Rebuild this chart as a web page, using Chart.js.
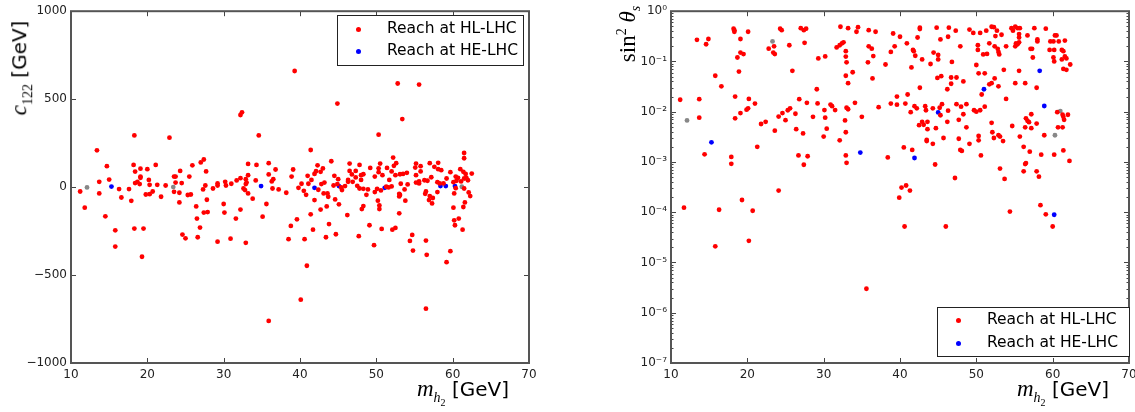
<!DOCTYPE html>
<html>
<head>
<meta charset="utf-8">
<script src="https://cdn.jsdelivr.net/npm/chart.js@4/dist/chart.umd.min.js"></script>
<style>
  body { margin: 0; width: 1135px; height: 412px; overflow: hidden; background: #fff; position: relative; font-family: "DejaVu Sans", sans-serif; }
  .pane { position: absolute; top: 0; width: 560px; height: 412px; }
  .title { position: absolute; white-space: nowrap; font-size: 20px; color: #000; transform: translate(-50%, -50%); }
  .rot { transform: translate(-50%, -50%) rotate(-90deg); }
  .m { font-family: "Liberation Serif", serif; font-size: 23px; }
  .m i { font-style: italic; }
  .m sub, .m sup { font-size: 14px; }
  .legend { position: absolute; border: 1.5px solid #222; background: #fff; font-size: 15.5px; }
  .legend div { position: absolute; left: 0; white-space: nowrap; }
  .legend span.dot { position: absolute; width: 5px; height: 5px; border-radius: 50%; }
</style>
</head>
<body>
<div class="pane" style="left:0"><canvas id="c122Chart" width="560" height="412"></canvas></div>
<div class="pane" style="left:600px"><canvas id="sinChart" width="560" height="412"></canvas></div>

<div class="title rot" style="left:21px;top:68px"><span class="m"><i>c</i><sub>122</sub></span> [GeV]</div>
<div class="title" style="left:463px;top:392px"><span class="m"><i>m</i><sub><i>h</i><sub style="font-size:10px">2</sub></sub></span> [GeV]</div>
<div class="title rot" style="left:629px;top:34px"><span class="m">sin<sup>2</sup> <i>θ</i><sub><i>s</i></sub></span></div>
<div class="title" style="left:1063px;top:392px"><span class="m"><i>m</i><sub><i>h</i><sub style="font-size:10px">2</sub></sub></span> [GeV]</div>

<div class="legend" style="left:337px;top:15px;width:185px;height:49px">
  <span class="dot" style="left:18px;top:11px;background:#f00"></span><div style="left:49px;top:3px">Reach at HL-LHC</div>
  <span class="dot" style="left:18px;top:33px;background:#00f"></span><div style="left:49px;top:25px">Reach at HE-LHC</div>
</div>
<div class="legend" style="left:937px;top:307px;width:191px;height:48px">
  <span class="dot" style="left:18px;top:10px;background:#f00"></span><div style="left:49px;top:2px">Reach at HL-LHC</div>
  <span class="dot" style="left:18px;top:33px;background:#00f"></span><div style="left:49px;top:25px">Reach at HE-LHC</div>
</div>

<script>
// axis ranges / ticks
const massTicks = [10, 20, 30, 40, 50, 60, 70];
const c122Ticks = [-1000, -500, 0, 500, 1000];
const sinTicks = [1e-7, 1e-6, 1e-5, 1e-4, 1e-3, 1e-2, 1e-1, 1];

// left panel: [m_h2, c122]
const c122HL = [
  [18.3,294],[22.9,281],[13.4,209],[14.7,119],[18.2,126],[18.4,88],[19.1,105],[20.0,102],[21.1,126],[19.1,60],
  [19.1,53],[15.0,43],[13.7,30],[18.4,23],[18.7,30],[19.0,17],[20.2,41],[20.3,13],[21.3,13],[22.4,9],
  [23.5,60],[23.7,60],[24.3,92],[23.7,26],[24.5,23],[25.5,60],[11.2,-25],[16.3,-11],[17.6,-11],[13.7,-36],
  [16.6,-59],[17.9,-78],[19.8,-42],[20.3,-40],[20.7,-25],[21.8,-55],[23.5,-27],[24.2,-32],[24.2,-87],[25.3,-45],
  [11.8,-117],[14.5,-166],[15.8,-246],[15.8,-338],[18.3,-236],[19.5,-236],[19.3,-396],[24.6,-270],[25.0,-291],
  [32.2,410],[32.4,425],[34.6,294],[25.9,124],[27.0,140],[27.4,157],[27.7,89],[33.2,132],[34.3,126],[35.9,136],
  [36.8,100],[39.1,100],[38.9,60],[35.9,72],[33.2,68],[32.2,51],[31.7,38],[31.0,19],[30.2,30],[30.3,9],
  [29.2,21],[29.2,9],[28.6,-8],[27.6,9],[27.3,-13],[32.9,45],[33.0,26],[32.9,17],[34.2,38],[36.5,45],
  [36.3,32],[32.6,-8],[32.8,-17],[33.2,-36],[33.8,-66],[36.4,-8],[37.2,-13],[38.2,-32],[39.8,-4],[40.2,19],
  [40.5,-21],[25.7,-42],[27.8,-72],[30.0,-96],[35.6,-96],[26.4,-110],[27.4,-145],[27.9,-142],[30.1,-145],[32.2,-128],
  [31.6,-179],[35.1,-168],[26.5,-179],[26.9,-230],[26.6,-285],[29.2,-310],[30.9,-293],[32.9,-317],[39.6,-183],[38.8,-221],
  [38.5,-296],[40.6,-296],[40.1,-640],[35.9,-761],[39.3,660],[44.9,475],[52.8,589],[55.6,583],
  [53.4,387],[50.3,298],[41.4,211],[44.1,147],[42.3,124],[42.1,90],[41.9,75],[41.0,64],[43.0,106],[42.7,87],
  [41.5,41],[41.1,19],[43.2,26],[42.8,17],[42.4,-15],[43.1,-36],[43.6,-36],[43.7,-55],[40.8,-44],[44.5,64],
  [45.0,45],[44.4,9],[44.9,17],[45.5,-17],[45.4,-2],[45.9,6],[46.3,41],[46.3,30],[46.5,92],[46.5,134],
  [46.9,30],[46.8,72],[47.3,55],[47.3,92],[47.8,126],[48.0,68],[48.3,73],[48.0,41],[47.5,7],[47.8,-8],
  [48.3,-10],[48.9,-13],[48.7,-44],[49.2,109],[49.8,60],[50.3,107],[50.5,134],[50.3,85],[50.8,68],[51.4,109],
  [52.0,89],[52.2,168],[52.6,136],[52.3,121],[52.5,68],[53.1,73],[53.5,75],[54.0,81],[53.2,19],[54.1,15],
  [53.7,-13],[53.0,-38],[53.0,-53],[53.1,-45],[51.7,41],[52.0,4],[51.6,-2],[51.3,2],[50.6,-19],[50.1,-10],
  [49.8,-28],[50.2,-77],[50.4,-104],[50.4,-125],[48.3,-108],[48.1,-125],[55.2,134],[55.1,111],[55.2,68],[55.2,26],
  [55.6,21],[53.8,-77],[53.0,-149],[45.1,-98],[44.6,-70],[43.5,-110],[42.7,-128],[41.9,-74],[41.4,-155],[46.2,-159],
  [43.8,-210],[41.7,-242],[43.4,-285],[44.7,-268],[47.7,-279],[49.1,-217],[49.7,-330],[50.7,-238],[52.1,-242],[52.5,-232],
  [54.7,-272],[54.4,-306],[54.8,-361],[40.9,-447],
  [61.5,194],[61.5,164],[55.8,119],[57.0,136],[57.6,115],[58.1,138],[58.5,96],[58.1,102],[55.8,89],[57.2,56],
  [59.7,85],[59.2,49],[61.0,102],[61.4,87],[61.7,75],[62.5,77],[61.8,53],[62.0,39],[61.5,49],[61.1,32],
  [60.7,53],[60.4,60],[60.5,36],[60.1,28],[56.7,36],[56.3,39],[55.6,32],[58.0,28],[58.3,21],[58.8,21],
  [60.4,-6],[61.5,-8],[62.1,-30],[62.3,-51],[58.0,-28],[56.5,-25],[56.4,-38],[57.0,-51],[57.4,-62],[56.9,-74],
  [57.3,-93],[60.2,-36],[61.6,-87],[61.4,-113],[60.1,-117],[60.8,-179],[60.2,-189],[60.3,-217],[61.3,-242],[56.5,-304],
  [56.6,-385],[59.7,-364],[59.2,-427],[56.5,-691]
];
const c122HE = [[15.3,3],[34.9,6],[41.9,-4],[45.1,6],[51.1,-4],[58.4,6],[59.1,6],[60.3,6]];
const c122Other = [[12.1,-2],[23.4,0],[61.2,2]];

// right panel: [m_h2, sin^2 theta_s]
const sinHL = [
  [11.2,0.0173],[11.7,1.23e-4],[13.4,0.27],[13.7,0.0178],[13.7,7.6e-3],[14.6,0.22],[14.9,0.28],[14.4,1.42e-3],[15.8,0.052],[16.6,0.032],
  [17.9,9.2e-4],[17.9,1.26e-3],[18.2,0.45],[18.3,0.39],[18.3,0.42],[19.1,0.28],[18.7,0.12],[19.1,0.15],[19.5,0.14],[18.9,0.063],
  [18.4,0.020],[18.4,7.4e-3],[19.1,9.4e-3],[19.9,0.011],[20.1,0.0117],[20.2,0.018],[20.1,0.39],[21.0,0.0145],[21.3,2.0e-3],[21.8,5.7e-3],
  [22.4,6.3e-3],[19.3,1.75e-4],[24.1,2.7e-4],[22.8,0.18],[23.5,0.20],[23.4,0.15],[23.6,0.14],[24.3,0.45],[24.5,0.42],[23.6,4.2e-3],
  [24.1,8e-3],[24.6,9.4e-3],[25.0,6.8e-3],[25.3,0.0107],[25.6,0.0117],[25.5,0.21],[25.9,0.065],[26.3,9.1e-3],[26.4,4.5e-3],[26.7,1.35e-3],
  [26.8,0.0178],[27.3,3.7e-3],[27.4,8.8e-4],[27.9,1.3e-3],[27.8,0.015],[27.0,0.46],[27.4,0.42],[27.7,0.45],[27.5,0.235],[28.6,7.9e-3],
  [29.1,0.028],[29.2,0.0146],[29.3,0.115],[30.1,0.0108],[30.2,7.6e-3],[30.4,4.6e-3],[30.0,3.2e-3],[30.2,0.126],[30.9,0.0139],[31.1,0.0129],
  [31.5,0.0108],[32.1,2.7e-3],[32.2,0.49],[31.7,0.19],[32.1,0.21],[32.4,0.23],[32.6,0.24],[32.9,0.16],[32.9,0.125],[33.0,0.096],
  [32.9,0.052],[33.2,0.037],[33.2,0.46],[33.0,0.012],[33.2,0.0112],[32.8,6.7e-3],[32.9,3.9e-3],[32.9,1.35e-3],[33.0,9.6e-4],[34.3,0.39],
  [34.5,0.48],[33.8,0.061],[34.1,0.015],[35.0,7.9e-3],[35.9,0.42],[36.8,0.39],[35.9,0.20],[36.3,0.18],[36.5,0.128],[35.8,0.096],
  [36.4,0.046],[37.2,0.0123],[35.6,3.0e-6],[15.8,2.1e-5],[16.3,1.12e-4],[20.2,2.7e-5],[20.7,1.07e-4],
  [39.1,0.36],[40.0,0.31],[39.3,0.20],[38.8,0.155],[38.1,0.087],[40.9,0.23],[41.7,0.17],[41.8,0.16],[42.0,0.13],[41.5,0.076],
  [42.3,0.30],[42.6,0.47],[42.6,0.44],[42.9,0.11],[42.6,0.030],[44.8,0.47],[45.3,0.275],[44.4,0.15],[45.0,0.135],[45.0,0.11],
  [44.0,0.089],[44.9,0.047],[45.4,0.051],[46.2,0.028],[46.7,0.048],[46.7,0.036],[47.4,0.048],[46.8,0.098],[46.3,0.31],[46.4,0.47],
  [47.3,0.41],[47.9,0.20],[48.3,0.040],[49.1,0.43],[49.6,0.37],[50.5,0.37],[51.3,0.41],[52.0,0.49],[52.3,0.48],[52.7,0.41],
  [52.5,0.32],[53.3,0.34],[51.7,0.23],[50.2,0.21],[50.2,0.17],[50.9,0.138],[51.4,0.141],[52.4,0.20],[52.8,0.178],[52.9,0.155],
  [53.0,0.138],[50.0,0.085],[50.3,0.058],[51.1,0.058],[53.6,0.068],[53.9,0.20],[52.4,0.046],[52.0,0.037],[51.7,0.035],[50.7,0.022],
  [52.9,0.032],[53.9,0.018],
  [54.6,0.46],[55.1,0.49],[55.4,0.46],[55.7,0.46],[55.6,0.35],[55.6,0.30],[55.2,0.23],[55.4,0.22],[55.6,0.24],[55.1,0.20],
  [54.8,0.41],[56.7,0.33],[57.6,0.46],[57.1,0.178],[57.3,0.178],[58.0,0.275],[58.0,0.25],[59.1,0.45],[57.4,0.12],[55.6,0.065],
  [55.1,0.037],[56.4,0.037],[57.9,0.030],[59.7,0.25],[60.1,0.25],[60.8,0.25],[60.3,0.33],[60.5,0.33],[61.6,0.26],[59.6,0.17],
  [60.2,0.17],[61.2,0.17],[61.4,0.16],[60.1,0.12],[60.2,0.10],[61.2,0.11],[61.6,0.126],[61.8,0.115],[62.3,0.087],[61.4,0.071],
  [61.8,0.068],
  [57.2,8.9e-3],[56.5,7.4e-3],[56.7,6.6e-3],[56.9,6.2e-3],[56.4,4.9e-3],[57.2,4.7e-3],[57.9,5.8e-3],[55.7,3.2e-3],[54.7,5.2e-3],[56.2,2.0e-3],
  [57.0,1.6e-3],[58.5,1.4e-3],[58.9,3.4e-3],[56.4,9.1e-4],[56.5,9.5e-4],[56.2,6.5e-4],[57.9,6.5e-4],[58.2,5.1e-4],[60.2,1.4e-3],[61.3,4.9e-3],
  [60.7,4.9e-3],[60.6,9.8e-3],[61.3,8.7e-3],[61.4,7.9e-3],[61.5,6.9e-3],[62.0,8.7e-3],[61.4,1.7e-3],[62.2,1.05e-3],[58.4,1.38e-4],
  [38.8,0.0145],[39.6,0.0138],[40.7,0.0145],[41.0,0.022],[39.6,0.020],[41.4,9.8e-3],[41.9,0.0129],[42.2,0.0117],[43.3,0.0129],[43.4,0.0107],
  [44.3,0.0117],[45.2,0.012],[45.3,8.5e-3],[45.5,0.0141],[46.3,0.0105],[47.4,0.0141],[48.0,0.0126],[48.7,0.0141],[48.3,8.9e-3],[47.7,6.9e-3],
  [46.2,6.3e-3],[43.6,6.3e-3],[42.9,6.3e-3],[43.1,5.5e-3],[42.5,5.4e-3],[43.6,4.5e-3],[44.7,4.7e-3],[48.7,4.9e-3],[49.7,0.0107],[50.0,0.010],
  [50.5,0.0107],[51.1,0.0126],[52.0,6.0e-3],[52.1,3.9e-3],[52.3,3.0e-3],[52.9,3.4e-3],[53.1,3.2e-3],[53.5,2.6e-3],[50.3,3.3e-3],[50.3,2.7e-3],
  [50.6,1.35e-3],[53.1,7.4e-4],[53.7,4.6e-4],[43.5,2.75e-3],[43.5,2.6e-3],[44.3,2.3e-3],[45.7,3.0e-3],[47.7,2.9e-3],[49.1,2.3e-3],[47.9,1.74e-3],
  [48.1,1.66e-3],[41.6,1.74e-3],[40.5,1.95e-3],[38.4,1.23e-3],[44.6,8.9e-4],[47.2,4.8e-4],[40.2,3.1e-4],[40.8,3.4e-4],[41.3,2.7e-4],[39.9,1.95e-4],
  [40.6,5.2e-5],[46.0,5.2e-5],[54.4,1.03e-4],[59.1,9.1e-5],[60.0,5.2e-5]
];
const sinHE = [[15.3,2.46e-3],[34.8,1.54e-3],[51.0,0.028],[58.3,0.065],[58.9,0.013],[45.0,9.7e-3],[41.9,1.2e-3],[60.2,8.9e-5]];
const sinOther = [[12.1,6.7e-3],[23.3,0.25],[60.3,3.4e-3],[61.0,0.0103]];

const toPts = arr => arr.map(p => ({x: p[0], y: p[1]}));
const supMap = {'-':'⁻','0':'⁰','1':'¹','2':'²','3':'³','4':'⁴','5':'⁵','6':'⁶','7':'⁷','8':'⁸','9':'⁹'};

// matplotlib-like frame with inward ticks on all four sides
const frameTicks = {
  id: 'frameTicks',
  afterDatasetsDraw(chart) {
    const {ctx, chartArea: a, scales: {x, y}} = chart;
    ctx.save();
    ctx.strokeStyle = '#444';
    ctx.lineWidth = 1;
    const line = (x1, y1, x2, y2) => { ctx.beginPath(); ctx.moveTo(x1, y1); ctx.lineTo(x2, y2); ctx.stroke(); };
    massTicks.forEach(v => {
      const px = Math.round(x.getPixelForValue(v)) + 0.5;
      line(px, a.bottom, px, a.bottom - 5);
      line(px, a.top, px, a.top + 5);
    });
    if (y.type === 'logarithmic') {
      for (let k = -7; k <= 0; k++) {
        for (let m = 1; m <= 9; m++) {
          const v = m * Math.pow(10, k);
          if (v > 1) break;
          const py = Math.round(y.getPixelForValue(v)) + 0.5;
          const len = m === 1 ? 5 : 2.5;
          line(a.left, py, a.left + len, py);
          line(a.right, py, a.right - len, py);
        }
      }
    } else {
      c122Ticks.forEach(v => {
        const py = Math.round(y.getPixelForValue(v)) + 0.5;
        line(a.left, py, a.left + 5, py);
        line(a.right, py, a.right - 5, py);
      });
    }
    ctx.strokeStyle = '#555';
    ctx.lineWidth = 2;
    ctx.strokeRect(a.left, a.top, a.right - a.left, a.bottom - a.top);
    ctx.restore();
  }
};

function makeChart(id, hl, he, other, yScale) {
  return new Chart(document.getElementById(id), {
    type: 'scatter',
    data: {
      datasets: [
        { label: 'Reach at HL-LHC', data: toPts(hl), backgroundColor: '#ff0000', pointRadius: 2.4, borderWidth: 0 },
        { label: 'other', data: toPts(other), backgroundColor: '#888888', pointRadius: 2.4, borderWidth: 0 },
        { label: 'Reach at HE-LHC', data: toPts(he), backgroundColor: '#0000ff', pointRadius: 2.4, borderWidth: 0 },
      ],
    },
    options: {
      responsive: false,
      animation: false,
      layout: { padding: { top: 8, right: 31, left: 0, bottom: 0 } },
      plugins: { legend: { display: false }, tooltip: { enabled: false } },
      scales: {
        x: {
          type: 'linear', min: 10, max: 70,
          afterBuildTicks: s => { s.ticks = massTicks.map(v => ({value: v})); },
          ticks: { color: '#222', font: { family: 'DejaVu Sans', size: 12 }, padding: 5, maxRotation: 0 },
          grid: { display: false, drawTicks: false },
          border: { display: false },
          afterFit: s => { s.height = 49; },
        },
        y: Object.assign({
          grid: { display: false, drawTicks: false },
          border: { display: false },
          afterFit: s => { s.width = 71; },
        }, yScale),
      },
    },
    plugins: [frameTicks],
  });
}

makeChart('c122Chart', c122HL, c122HE, c122Other, {
  type: 'linear', min: -1000, max: 1000,
  afterBuildTicks: s => { s.ticks = c122Ticks.map(v => ({value: v})); },
  ticks: { color: '#222', font: { family: 'DejaVu Sans', size: 12 }, padding: 4, autoSkip: false,
           callback: v => String(v).replace('-', '−') },
});

makeChart('sinChart', sinHL, sinHE, sinOther, {
  type: 'logarithmic', min: 1e-7, max: 1,
  afterBuildTicks: s => { s.ticks = sinTicks.map(v => ({value: v})); },
  ticks: { color: '#222', font: { family: 'DejaVu Sans', size: 12 }, padding: 4, autoSkip: false,
           callback: v => '10' + String(Math.round(Math.log10(v))).split('').map(c => supMap[c]).join('') },
});
</script>
</body>
</html>
